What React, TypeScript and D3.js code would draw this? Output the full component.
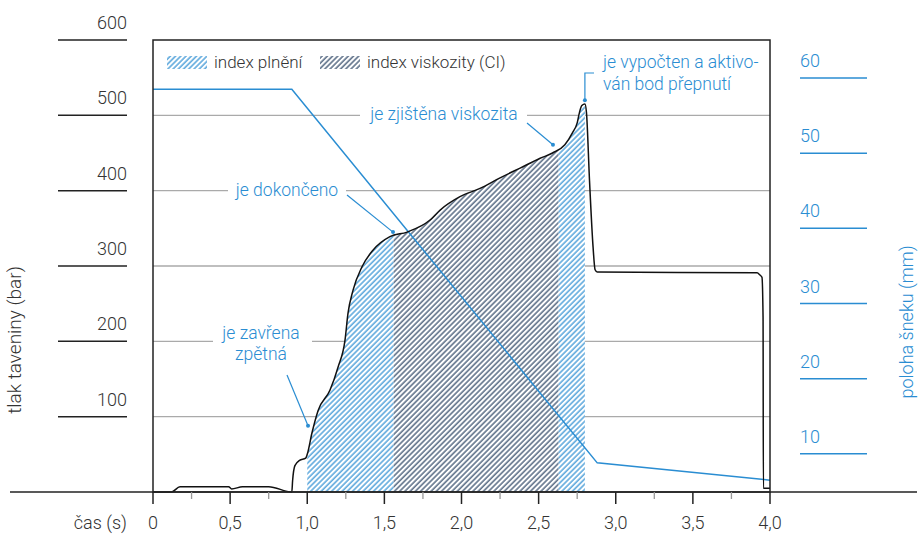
import React, { useEffect, useRef } from 'react';
import * as d3 from 'd3';

// tlak taveniny (bar) v case (s)
const pressureTime = [0, 0.12, 0.175, 0.49, 0.51, 0.58, 0.75, 0.9, 0.905, 0.92, 0.95, 0.99, 1.0, 1.03, 1.07, 1.147, 1.2, 1.245, 1.264, 1.297, 1.355, 1.426, 1.536, 1.647, 1.796, 1.86, 1.99, 2.12, 2.25, 2.38, 2.51, 2.59, 2.67, 2.72, 2.75, 2.765, 2.78, 2.8, 2.81, 2.83, 2.853, 2.866, 2.88, 3.916, 3.935, 3.948, 3.955, 3.957, 4.0];
const pressureBar = [0, 0, 7, 7, 4, 7, 7, 0, 15, 35, 42, 45, 50, 78, 108, 135, 166, 202, 237, 268, 299, 321, 339, 345, 361, 374, 392, 403, 417, 430, 443, 450, 461, 477, 490, 504, 513, 515, 504, 413, 325, 295, 292, 291, 288, 285, 232, 5, 5];

// poloha sneku (mm)
const screwTime = [0, 0.9, 2.88, 4.0];
const screwMm = [58.5, 58.5, 8.8, 6.5];

// useky srafovani: index plneni / index viskozity
const hatchStart = [1.0, 1.56, 2.63];
const hatchEnd = [1.56, 2.63, 2.8];
const hatchKind = ['fill', 'visc', 'fill'];

const leftTicks = [100, 200, 300, 400, 500, 600];
const rightTicks = [10, 20, 30, 40, 50, 60];
const xMajor = [0, 0.5, 1, 1.5, 2, 2.5, 3, 3.5, 4];
const xMinor = [0.25, 0.75, 1.25, 1.75, 2.25, 2.75, 3.25, 3.75];

const BLUE = '#2a8dd2';
const DARK = '#2b4363';
const TXT = '#333';
const FONT = "Roboto, 'DejaVu Sans', sans-serif";

export default function App() {
  const svgRef = useRef<SVGSVGElement>(null);

  useEffect(() => {
    document.body.style.margin = '0';
    if (!svgRef.current) return;
    const svg = d3.select(svgRef.current);
    svg.selectAll('*').remove();
    svg.attr('width', 920).attr('height', 535)
      .style('font-family', FONT).style('font-weight', 300);

    const x = d3.scaleLinear().domain([0, 4]).range([153, 770]);
    const y = d3.scaleLinear().domain([0, 600]).range([492, 40]);
    const yR = d3.scaleLinear().domain([0, 60]).range([529, 78]);

    const pts = pressureTime.map((t, i) => [t, pressureBar[i]] as [number, number]);

    // patterns
    const defs = svg.append('defs');
    const mkPattern = (id: string, color: string) => {
      const p = defs.append('pattern').attr('id', id)
        .attr('patternUnits', 'userSpaceOnUse')
        .attr('width', 3.7).attr('height', 10)
        .attr('patternTransform', 'rotate(45)');
      p.append('rect').attr('width', 3.7).attr('height', 10).attr('fill', '#fff');
      p.append('line').attr('x1', 1).attr('x2', 1).attr('y1', 0).attr('y2', 10)
        .attr('stroke', color).attr('stroke-width', 1.2);
    };
    mkPattern('hatch-fill', BLUE);
    mkPattern('hatch-visc', DARK);

    // gridlines
    svg.append('g').selectAll('line')
      .data(leftTicks.filter(d => d < 600))
      .enter().append('line')
      .attr('x1', x(0)).attr('x2', x(4))
      .attr('y1', d => y(d)).attr('y2', d => y(d))
      .attr('stroke', '#aaa').attr('stroke-width', 1.3);

    // hatched areas
    const area = d3.area<[number, number]>()
      .x(d => x(d[0])).y0(y(0)).y1(d => y(d[1]))
      .curve(d3.curveMonotoneX);
    hatchStart.forEach((t0, i) => {
      const cid = `clip-${i}`;
      defs.append('clipPath').attr('id', cid).append('rect')
        .attr('x', x(t0)).attr('y', 0)
        .attr('width', x(hatchEnd[i]) - x(t0)).attr('height', y(0));
      svg.append('path').datum(pts)
        .attr('d', area)
        .attr('clip-path', `url(#${cid})`)
        .attr('fill', hatchKind[i] === 'fill' ? 'url(#hatch-fill)' : 'url(#hatch-visc)');
    });

    // screw position line
    const lineR = d3.line<number>().x((_, i) => x(screwTime[i])).y(d => yR(d));
    svg.append('path').datum(screwMm).attr('d', lineR)
      .attr('fill', 'none').attr('stroke', BLUE).attr('stroke-width', 1.5);

    // pressure curve
    const line = d3.line<[number, number]>().x(d => x(d[0])).y(d => y(d[1]))
      .curve(d3.curveMonotoneX);
    svg.append('path').datum(pts).attr('d', line)
      .attr('fill', 'none').attr('stroke', '#111').attr('stroke-width', 1.5);

    // frame
    svg.append('rect').attr('x', x(0)).attr('y', y(600))
      .attr('width', x(4) - x(0)).attr('height', y(0) - y(600))
      .attr('fill', 'none').attr('stroke', '#222').attr('stroke-width', 1.5);

    // x axis
    svg.append('line').attr('x1', 10).attr('x2', 917).attr('y1', y(0)).attr('y2', y(0))
      .attr('stroke', '#222').attr('stroke-width', 1.5);
    svg.append('g').selectAll('line').data(xMajor).enter().append('line')
      .attr('x1', d => x(d)).attr('x2', d => x(d))
      .attr('y1', y(0)).attr('y2', y(0) + 12)
      .attr('stroke', '#222').attr('stroke-width', 1.5);
    svg.append('g').selectAll('line').data(xMinor).enter().append('line')
      .attr('x1', d => x(d)).attr('x2', d => x(d))
      .attr('y1', y(0)).attr('y2', y(0) + 7)
      .attr('stroke', '#999').attr('stroke-width', 1.3);
    svg.append('g').selectAll('text').data(xMajor).enter().append('text')
      .attr('x', d => x(d)).attr('y', 529)
      .attr('text-anchor', 'middle').attr('font-size', 18).attr('fill', TXT)
      .text(d => (d === 0 ? '0' : d.toFixed(1).replace('.', ',')));
    svg.append('text').attr('x', 127).attr('y', 529).attr('text-anchor', 'end')
      .attr('font-size', 18).attr('fill', TXT).text('čas (s)');

    // left axis
    const gl = svg.append('g');
    gl.selectAll('line').data(leftTicks).enter().append('line')
      .attr('x1', 58).attr('x2', 127).attr('y1', d => y(d)).attr('y2', d => y(d))
      .attr('stroke', '#222').attr('stroke-width', 1.5);
    gl.selectAll('text').data(leftTicks).enter().append('text')
      .attr('x', 127).attr('y', d => y(d) - 11).attr('text-anchor', 'end')
      .attr('font-size', 18).attr('fill', TXT).text(d => d);
    svg.append('text').attr('transform', 'translate(21,340) rotate(-90)')
      .attr('text-anchor', 'middle').attr('font-size', 19).attr('fill', TXT)
      .text('tlak taveniny (bar)');

    // right axis
    const gr = svg.append('g');
    gr.selectAll('line').data(rightTicks).enter().append('line')
      .attr('x1', 800).attr('x2', 867).attr('y1', d => yR(d)).attr('y2', d => yR(d))
      .attr('stroke', BLUE).attr('stroke-width', 1.5);
    gr.selectAll('text').data(rightTicks).enter().append('text')
      .attr('x', 800).attr('y', d => yR(d) - 11)
      .attr('font-size', 18).attr('fill', BLUE).text(d => d);
    svg.append('text').attr('transform', 'translate(913,322) rotate(-90)')
      .attr('text-anchor', 'middle').attr('font-size', 18).attr('fill', BLUE)
      .text('poloha šneku (mm)');

    // legend
    svg.append('rect').attr('x', 167).attr('y', 56).attr('width', 40).attr('height', 13)
      .attr('fill', 'url(#hatch-fill)');
    svg.append('text').attr('x', 214).attr('y', 68).attr('font-size', 17).attr('fill', TXT)
      .text('index plnění');
    svg.append('rect').attr('x', 320).attr('y', 56).attr('width', 40).attr('height', 13)
      .attr('fill', 'url(#hatch-visc)');
    svg.append('text').attr('x', 367).attr('y', 68).attr('font-size', 17).attr('fill', TXT)
      .text('index viskozity (CI)');

    // annotations
    const ann = svg.append('g');
    const gap = (x1: number, x2: number, yy: number) =>
      ann.append('rect').attr('x', x1).attr('y', yy - 2).attr('width', x2 - x1).attr('height', 4).attr('fill', '#fff');
    const txt = (s: string, xx: number, yy: number, anchor: string) =>
      ann.append('text').attr('x', xx).attr('y', yy).attr('text-anchor', anchor)
        .attr('font-size', 17.5).attr('fill', BLUE).text(s);
    const leader = (p: [number, number][]) => {
      ann.append('path').attr('d', d3.line()(p)).attr('fill', 'none')
        .attr('stroke', BLUE).attr('stroke-width', 1.2);
      const e = p[0];
      ann.append('circle').attr('cx', e[0]).attr('cy', e[1]).attr('r', 2).attr('fill', BLUE);
    };

    leader([[x(2.8), y(520)], [x(2.8), 73], [594, 73]]);
    txt('je vypočten a aktivo-', 603, 68, 'start');
    txt('ván bod přepnutí', 603, 90, 'start');

    gap(360, 527, y(500));
    txt('je zjištěna viskozita', 444, 120, 'middle');
    leader([[x(2.593), y(461)], [527, 123]]);

    gap(228, 346, y(400));
    txt('je dokončeno', 287, 196, 'middle');
    leader([[x(1.556), y(345)], [347, 195]]);

    gap(213, 312, y(200));
    txt('je zavřena', 261, 339, 'middle');
    txt('zpětná', 261, 360, 'middle');
    leader([[x(1.005), y(88)], [287, 375]]);
  }, []);

  return <svg ref={svgRef} style={{ display: 'block' }} />;
}
